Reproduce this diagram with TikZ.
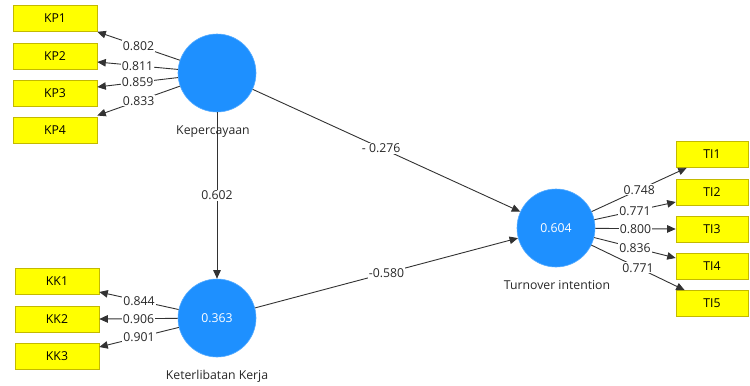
\documentclass[tikz,border=0pt]{standalone}
\usepackage{fontspec}
\setmainfont{Open Sans}
\usetikzlibrary{arrows.meta}
\definecolor{pyellow}{RGB}{255,255,0}
\definecolor{pyborder}{RGB}{195,185,0}
\definecolor{pblue}{RGB}{30,144,255}
\definecolor{pline}{RGB}{50,50,50}
\definecolor{ptext}{RGB}{40,40,40}
\tikzset{
  fnt/.style={font=\fontsize{12.3}{14}\selectfont},
  ind/.style={draw=pyborder, fill=pyellow, line width=0.6bp, minimum width=84bp, minimum height=26bp, inner sep=0pt, fnt, text=black},
  tind/.style={ind, minimum width=72bp},
  lv/.style={circle, fill=pblue, draw=pblue!75!white, line width=0.6bp, minimum size=78bp, inner sep=0pt, text=white, fnt},
  lvname/.style={fnt, text=ptext, inner sep=0pt},
  pth/.style={draw=pline, line width=0.9bp, -{Triangle[length=8.5bp,width=7.5bp]}},
  coef/.style={fill=white, inner sep=1bp, fnt, text=ptext}
}
\begin{document}
\begin{tikzpicture}[x=1bp,y=-1bp]
\useasboundingbox (0,0) rectangle (750,385);
% indicators
\node[ind] (KP1) at (55,18.5) {KP1};
\node[ind] (KP2) at (55,56) {KP2};
\node[ind] (KP3) at (55,93.5) {KP3};
\node[ind] (KP4) at (55,130.5) {KP4};
\node[ind] (KK1) at (57,281) {KK1};
\node[ind] (KK2) at (57,319) {KK2};
\node[ind] (KK3) at (57,356) {KK3};
\node[tind] (TI1) at (712,154.5) {TI1};
\node[tind] (TI2) at (712,192) {TI2};
\node[tind] (TI3) at (712,229) {TI3};
\node[tind] (TI4) at (712,266) {TI4};
\node[tind] (TI5) at (712,303.5) {TI5};
% latent variables
\node[lv] (KPc) at (217,73) {};
\node[lv] (KKc) at (217,318) {0.363};
\node[lv] (TIc) at (556,228) {0.604};
% structural paths
\draw[pth] (KPc) -- (KKc) node[coef,midway]{0.602};
\draw[pth] (KPc) -- (TIc) node[coef,pos=0.48]{- 0.276};
\draw[pth] (KKc) -- (TIc) node[coef,midway]{-0.580};
% names
\node[lvname] (KPn) at (213,132) {Kepercayaan};
\node[lvname] (KKn) at (217,376) {Keterlibatan Kerja};
\node[lvname] (TIn) at (557,285) {Turnover intention};
% outer loadings
\draw[pth] (KPc) -- (KP1.south east) node[coef,midway]{0.802};
\draw[pth] (KPc) -- ([yshift=-6bp]KP2.east) node[coef,midway]{0.811};
\draw[pth] (KPc) -- ([yshift=6.5bp]KP3.east) node[coef,midway]{0.859};
\draw[pth] (KPc) -- ([yshift=15bp]KP4.east) node[coef,midway]{0.833};
\draw[pth] (KKc) -- ([yshift=-11bp]KK1.east) node[coef,midway]{0.844};
\draw[pth] (KKc) -- (KK2.east) node[coef,midway]{0.906};
\draw[pth] (KKc) -- ([yshift=9bp]KK3.east) node[coef,midway]{0.901};
\draw[pth] (TIc) -- ([xshift=11bp]TI1.south west) node[coef,midway]{0.748};
\draw[pth] (TIc) -- ([yshift=-10bp]TI2.west) node[coef,midway]{0.771};
\draw[pth] (TIc) -- (TI3.west) node[coef,midway]{0.800};
\draw[pth] (TIc) -- ([yshift=8bp]TI4.west) node[coef,midway]{0.836};
\draw[pth] (TIc) -- ([xshift=9bp]TI5.north west) node[coef,midway]{0.771};
\end{tikzpicture}
\end{document}
